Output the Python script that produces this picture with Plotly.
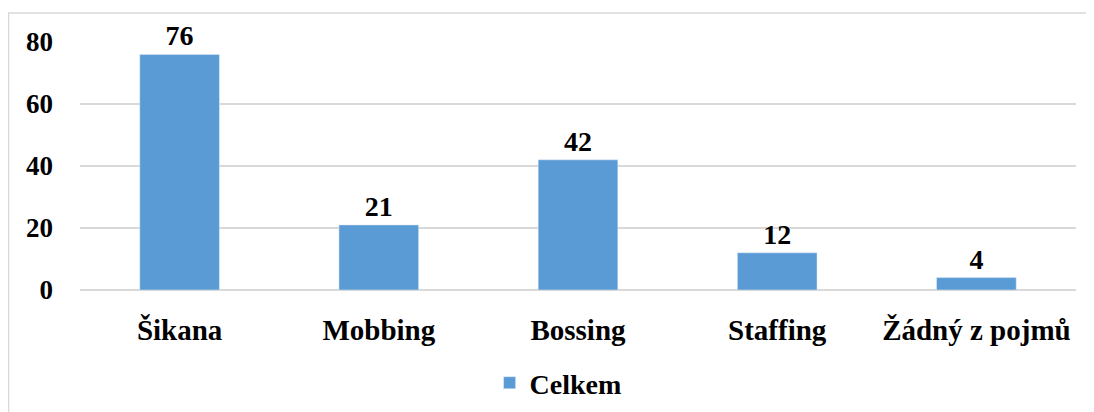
import plotly.graph_objects as go

categories = ["Šikana", "Mobbing", "Bossing", "Staffing", "Žádný z pojmů"]
values = [76, 21, 42, 12, 4]
series_name = "Celkem"

def serif(size):
    return dict(family="Liberation Serif", size=size, color="black", weight="bold")

fig = go.Figure()
fig.add_trace(go.Bar(
    x=categories, y=values, name=series_name,
    marker_color="#5b9bd5",
    text=values, textposition="outside", textfont=serif(28),
    cliponaxis=False,
))

# the page body adds an 8px offset, so the figure is 8px smaller than the window
fig.update_layout(
    width=1086, height=404,
    margin=dict(l=72, r=18, t=34, b=122, autoexpand=False),
    paper_bgcolor="white", plot_bgcolor="rgba(0,0,0,0)",
    font=serif(28),
    bargap=0.6,
    showlegend=True,
    legend=dict(orientation="h", x=0.48, xanchor="center", y=-0.375, yanchor="middle",
                font=serif(28)),
    # light gray frame around the chart (only left and top edges fall in view)
    shapes=[dict(type="rect", xref="paper", yref="paper",
                 x0=-71.5 / 996, x1=1030 / 996, y0=-140 / 248, y1=277 / 248,
                 line=dict(color="#d9d9d9", width=1.5), fillcolor="rgba(0,0,0,0)",
                 layer="below")],
)
fig.update_xaxes(showline=False, ticks="", ticklabelstandoff=20, tickfont=serif(29))
fig.update_yaxes(range=[0, 80], dtick=20, showgrid=True, gridcolor="#d9d9d9",
                 gridwidth=1.5, zeroline=True, zerolinecolor="#d9d9d9",
                 zerolinewidth=1.5, ticks="", ticklabelstandoff=26, tickfont=serif(27))

fig.write_html("out.html")
